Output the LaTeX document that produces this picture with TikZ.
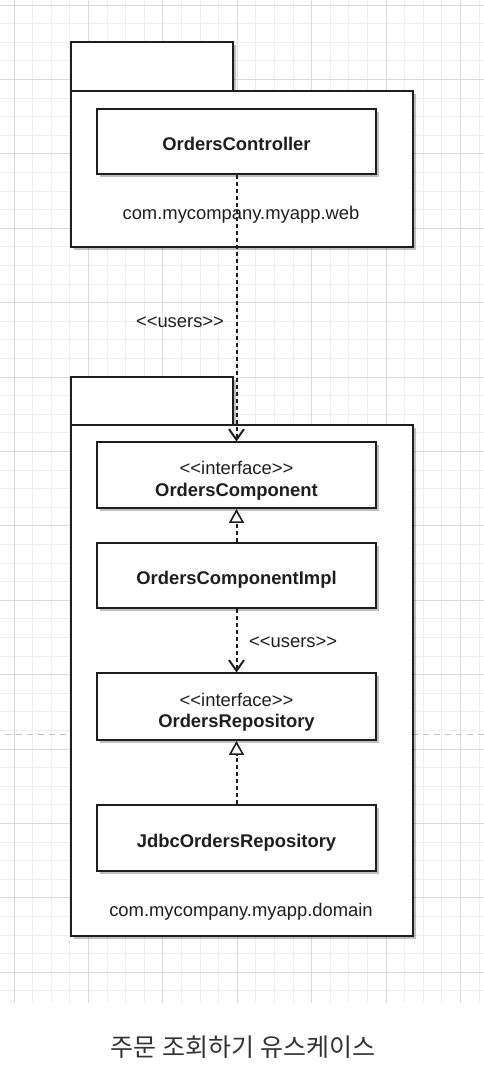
\documentclass[tikz,border=0pt]{standalone}
\usepackage{fontspec}
\setmainfont{Liberation Sans}
\newfontfamily\krfont{Noto Sans CJK KR}
\usetikzlibrary{arrows.meta,shadows}

\definecolor{ink}{HTML}{1E1E1E}
\definecolor{gridmajor}{HTML}{DADADA}
\definecolor{gridminor}{HTML}{EFEFEF}
\definecolor{pagebreak}{HTML}{C4C4C4}
\definecolor{captiongray}{HTML}{333333}

% open chevron head for dependency arrows
\pgfdeclarearrow{
  name=Chevron,
  parameters={\the\pgfarrowlength,\the\pgfarrowwidth,\the\pgfarrowlinewidth},
  setup code={
    \pgfarrowssettipend{0pt}
    \pgfarrowssetlineend{-0.5\pgfarrowlinewidth}
    \pgfarrowssetbackend{-\pgfarrowlength}
    \pgfarrowssetvisualbackend{-\pgfarrowlength}
  },
  drawing code={
    \pgfsetdash{}{0pt}
    \pgfsetmiterjoin
    \pgfsetbuttcap
    \pgfpathmoveto{\pgfpoint{-\pgfarrowlength}{0.5\pgfarrowwidth}}
    \pgfpathlineto{\pgfpoint{-0.8\pgfarrowlinewidth}{0pt}}
    \pgfpathlineto{\pgfpoint{-\pgfarrowlength}{-0.5\pgfarrowwidth}}
    \pgfusepathqstroke
  },
  defaults={length=12pt,width=14pt}
}

\tikzset{
  boxshadow/.style={drop shadow={shadow xshift=3pt,shadow yshift=-3pt,fill=black,opacity=0.25}},
  pkgpart/.style={draw=ink,line width=2pt,fill=white,boxshadow,inner sep=0pt},
  classbox/.style={draw=ink,line width=1.8pt,fill=white,boxshadow,
    minimum width=279pt,inner sep=0pt,align=center,text=ink,
    font=\fontsize{18.4}{21.5}\selectfont},
  oneline/.style={text height=22pt,text depth=4pt},
  twoline/.style={text height=46pt,text depth=4pt},
  plain/.style={text=ink,inner sep=0pt,font=\fontsize{18.4}{21.5}\selectfont},
  uses/.style={draw=ink,line width=2pt,dash pattern=on 4pt off 3pt,
    -{Chevron[length=12pt,width=15pt,line width=1.7pt]}},
  realizes/.style={draw=ink,line width=2pt,dash pattern=on 4pt off 3pt,
    -{Triangle[length=14pt,width=15pt,fill=white,line width=1.6pt]}},
}

\begin{document}
\begin{tikzpicture}[x=1pt,y=-1pt]
  \useasboundingbox (0,0) rectangle (484,1076);
  \fill[white] (0,0) rectangle (484,1076);

  % background grid
  \foreach \i in {0,...,25} {
    \draw[gridminor,line width=0.8pt] ({14+18.6*\i},0) -- ({14+18.6*\i},1003);
  }
  \foreach \j in {0,...,53} {
    \draw[gridminor,line width=0.8pt] (0,{5+18.6*\j}) -- (484,{5+18.6*\j});
  }
  \foreach \i in {0,...,6} {
    \draw[gridmajor,line width=0.9pt] ({14+74.4*\i},0) -- ({14+74.4*\i},1003);
  }
  \foreach \j in {0,...,13} {
    \draw[gridmajor,line width=0.9pt] (0,{5+74.4*\j}) -- (484,{5+74.4*\j});
  }
  \fill[white] (0,1003.5) rectangle (484,1076);

  % page break marker
  \draw[pagebreak,line width=1pt,dash pattern=on 6pt off 5pt] (5,734) -- (484,734);

  % package com.mycompany.myapp.web
  \node[pkgpart,minimum width=162pt,minimum height=49pt] (webtab) at (152,66.5) {};
  \node[pkgpart,minimum width=342pt,minimum height=156pt] (webpkg) at (242,169) {};
  \node[plain] (weblabel) at (241,215) {com.mycompany.myapp.web};

  % package com.mycompany.myapp.domain
  \node[pkgpart,minimum width=162pt,minimum height=48pt] (domtab) at (152,401) {};
  \node[pkgpart,minimum width=342pt,minimum height=511pt] (dompkg) at (242,680.5) {};
  \node[plain] (domlabel) at (241,912) {com.mycompany.myapp.domain};

  % classes
  \node[classbox,oneline,minimum height=65pt] (ctrl) at (236.5,141.5) {\textbf{OrdersController}};
  \node[classbox,twoline,minimum height=66pt] (comp) at (236.5,475) {{<}{<}interface{>}{>}\\\textbf{OrdersComponent}};
  \node[classbox,oneline,minimum height=65pt] (impl) at (236.5,575.5) {\textbf{OrdersComponentImpl}};
  \node[classbox,twoline,minimum height=67pt] (repo) at (236.5,706.5) {{<}{<}interface{>}{>}\\\textbf{OrdersRepository}};
  \node[classbox,oneline,minimum height=66pt] (jdbc) at (236.5,838) {\textbf{JdbcOrdersRepository}};

  % relations
  \draw[uses] (ctrl.south) -- (comp.north);
  \node[plain] (uselabel1) at (180,322) {{<}{<}users{>}{>}};
  \draw[realizes] (impl.north) -- (comp.south);
  \draw[uses] (impl.south) -- (repo.north);
  \node[plain,anchor=west] (uselabel2) at (249,642) {{<}{<}users{>}{>}};
  \draw[realizes] (jdbc.north) -- (repo.south);

  % caption
  \node[text=captiongray,inner sep=0pt,font=\krfont\fontsize{25}{30}\selectfont] (caption) at (243,1047) {주문 조회하기 유스케이스};
\end{tikzpicture}
\end{document}
